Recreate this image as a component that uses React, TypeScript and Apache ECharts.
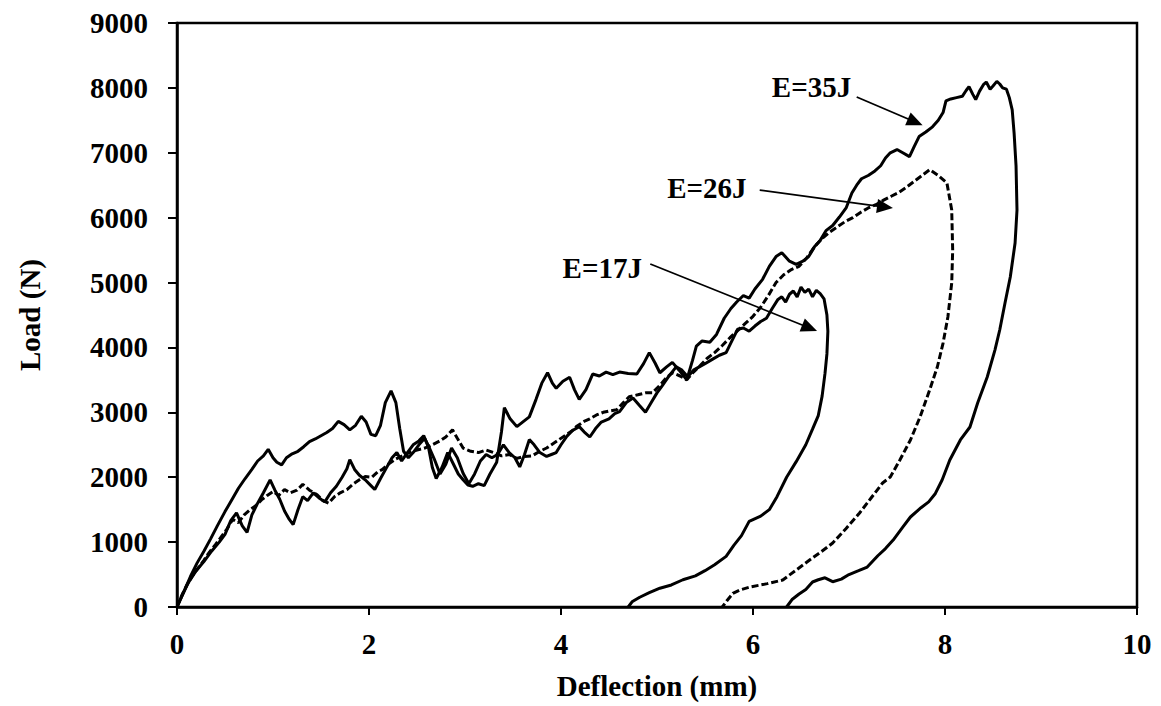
import React, { useEffect, useRef } from "react";
import * as echarts from "echarts";

// ---- data (deflection mm, load N) ----
const e35: number[][] = [
  [0,0],[0.06,200],[0.12,380],[0.2,560],[0.28,700],[0.36,860],[0.44,1000],[0.5,1120],[0.56,1330],[0.62,1450],[0.68,1250],[0.73,1150],[0.78,1420],[0.84,1600],[0.9,1760],[0.97,1960],[1.02,1800],[1.07,1660],[1.12,1480],[1.17,1350],[1.21,1270],[1.26,1500],[1.31,1700],[1.36,1640],[1.42,1760],[1.48,1680],[1.54,1620],[1.6,1760],[1.66,1860],[1.72,2000],[1.77,2130],[1.8,2270],[1.85,2120],[1.9,2030],[1.96,1960],[2.02,1870],[2.06,1810],[2.12,1980],[2.18,2140],[2.24,2300],[2.29,2380],[2.34,2250],[2.4,2380],[2.46,2500],[2.52,2560],[2.57,2640],[2.62,2460],[2.66,2150],[2.7,1980],[2.76,2150],[2.82,2380],[2.88,2200],[2.93,2050],[2.98,1960],[3.03,1880],[3.08,1860],[3.14,1900],[3.2,1870],[3.26,2050],[3.33,2230],[3.38,2700],[3.41,3070],[3.47,2900],[3.54,2780],[3.6,2850],[3.67,2930],[3.74,3200],[3.8,3450],[3.86,3610],[3.91,3450],[3.95,3370],[4.02,3480],[4.09,3540],[4.14,3350],[4.19,3200],[4.26,3350],[4.33,3590],[4.4,3560],[4.47,3620],[4.54,3580],[4.61,3620],[4.7,3600],[4.79,3590],[4.86,3750],[4.92,3920],[4.98,3760],[5.03,3610],[5.1,3700],[5.16,3770],[5.23,3650],[5.31,3500],[5.37,3800],[5.41,4020],[5.47,4100],[5.55,4080],[5.62,4200],[5.7,4450],[5.77,4600],[5.83,4700],[5.9,4800],[5.96,4760],[6.02,4900],[6.1,5050],[6.17,5250],[6.24,5400],[6.3,5460],[6.38,5330],[6.45,5280],[6.52,5330],[6.58,5400],[6.64,5550],[6.7,5650],[6.76,5800],[6.83,5880],[6.9,6010],[6.97,6150],[7.03,6380],[7.08,6500],[7.13,6600],[7.2,6650],[7.27,6720],[7.33,6800],[7.38,6920],[7.43,7000],[7.5,7050],[7.56,7000],[7.63,6940],[7.68,7100],[7.73,7250],[7.8,7320],[7.87,7400],[7.93,7500],[7.98,7620],[8.01,7800],[8.06,7830],[8.12,7850],[8.18,7870],[8.22,7960],[8.25,8020],[8.29,7900],[8.32,7820],[8.36,7950],[8.4,8050],[8.43,8090],[8.47,7980],[8.5,8030],[8.54,8100],[8.57,8060],[8.6,8000],[8.64,7980],[8.67,7850],[8.7,7660],[8.72,7300],[8.74,6800],[8.75,6118],[8.73,5610],[8.68,5085],[8.625,4685],[8.57,4269],[8.52,3960],[8.44,3544],[8.34,3144],[8.26,2774],[8.16,2574],[8.05,2265],[7.97,1957],[7.9,1750],[7.83,1620],[7.75,1530],[7.64,1387],[7.56,1230],[7.46,1032],[7.38,900],[7.3,790],[7.19,616],[7.1,560],[7.0,500],[6.92,430],[6.83,390],[6.75,450],[6.68,420],[6.62,385],[6.55,270],[6.48,200],[6.41,120],[6.35,0]
];

const e26: number[][] = [
  [0,0],[0.05,180],[0.1,330],[0.16,480],[0.22,600],[0.28,720],[0.34,850],[0.4,960],[0.46,1080],[0.52,1200],[0.58,1350],[0.64,1300],[0.7,1420],[0.76,1500],[0.82,1560],[0.88,1650],[0.94,1720],[1.0,1780],[1.06,1720],[1.12,1810],[1.18,1760],[1.25,1800],[1.31,1890],[1.38,1800],[1.46,1730],[1.52,1640],[1.58,1600],[1.64,1700],[1.7,1760],[1.77,1810],[1.84,1900],[1.9,1960],[1.96,2010],[2.03,2000],[2.09,2080],[2.14,2120],[2.2,2200],[2.28,2280],[2.35,2330],[2.42,2380],[2.5,2420],[2.58,2450],[2.66,2500],[2.74,2560],[2.8,2620],[2.87,2730],[2.92,2600],[2.98,2450],[3.06,2400],[3.14,2380],[3.22,2420],[3.3,2380],[3.38,2330],[3.46,2350],[3.54,2290],[3.62,2320],[3.7,2330],[3.78,2400],[3.85,2450],[3.92,2520],[3.98,2580],[4.06,2660],[4.12,2720],[4.16,2780],[4.24,2860],[4.3,2900],[4.37,2960],[4.44,3000],[4.5,3020],[4.58,3040],[4.65,3150],[4.71,3240],[4.8,3270],[4.88,3300],[4.95,3300],[5.02,3400],[5.09,3520],[5.16,3610],[5.24,3560],[5.31,3500],[5.38,3620],[5.45,3720],[5.52,3830],[5.6,3920],[5.68,4030],[5.76,4150],[5.84,4260],[5.92,4370],[6.0,4480],[6.08,4620],[6.16,4800],[6.24,5000],[6.32,5120],[6.4,5200],[6.48,5250],[6.56,5380],[6.64,5550],[6.72,5680],[6.8,5780],[6.88,5860],[6.96,5940],[7.04,6000],[7.12,6080],[7.2,6150],[7.28,6200],[7.36,6270],[7.44,6330],[7.52,6390],[7.6,6470],[7.68,6560],[7.76,6650],[7.84,6740],[7.93,6650],[8.02,6534],[8.07,6118],[8.08,5502],[8.07,4993],[8.03,4469],[7.98,4068],[7.92,3699],[7.84,3344],[7.74,2928],[7.64,2574],[7.53,2265],[7.43,2003],[7.35,1911],[7.23,1680],[7.11,1449],[6.97,1210],[6.83,986],[6.71,850],[6.59,724],[6.45,570],[6.31,416],[6.15,360],[5.97,308],[5.86,260],[5.79,210],[5.73,100],[5.68,0]
];

const e17: number[][] = [
  [0,0],[0.07,230],[0.14,470],[0.21,680],[0.28,860],[0.35,1050],[0.42,1250],[0.5,1470],[0.57,1650],[0.64,1830],[0.71,1980],[0.78,2120],[0.84,2250],[0.9,2330],[0.95,2430],[1.0,2300],[1.04,2230],[1.09,2190],[1.14,2300],[1.2,2360],[1.26,2400],[1.32,2470],[1.38,2550],[1.44,2590],[1.5,2640],[1.56,2690],[1.62,2750],[1.68,2860],[1.74,2810],[1.8,2730],[1.86,2800],[1.92,2940],[1.97,2850],[2.02,2660],[2.07,2640],[2.12,2800],[2.17,3150],[2.23,3330],[2.28,3150],[2.32,2750],[2.36,2400],[2.41,2300],[2.46,2380],[2.52,2500],[2.58,2600],[2.63,2450],[2.68,2280],[2.74,2050],[2.8,2200],[2.86,2450],[2.92,2300],[2.98,2060],[3.04,1900],[3.1,2050],[3.16,2250],[3.22,2350],[3.28,2300],[3.34,2350],[3.4,2500],[3.46,2380],[3.52,2300],[3.57,2160],[3.62,2350],[3.67,2580],[3.72,2500],[3.78,2380],[3.85,2320],[3.9,2350],[3.95,2380],[4.0,2500],[4.06,2630],[4.12,2720],[4.19,2780],[4.24,2700],[4.3,2620],[4.36,2750],[4.42,2850],[4.5,2900],[4.56,2980],[4.61,3010],[4.68,3150],[4.75,3220],[4.82,3100],[4.88,3000],[4.94,3150],[5.0,3300],[5.05,3400],[5.12,3550],[5.2,3700],[5.26,3650],[5.32,3550],[5.38,3650],[5.44,3700],[5.5,3750],[5.58,3820],[5.65,3880],[5.72,3920],[5.78,4100],[5.84,4280],[5.9,4300],[5.96,4250],[6.02,4330],[6.08,4400],[6.14,4450],[6.2,4600],[6.26,4740],[6.3,4780],[6.34,4700],[6.38,4820],[6.42,4870],[6.46,4780],[6.5,4930],[6.54,4850],[6.58,4900],[6.62,4780],[6.66,4880],[6.7,4830],[6.74,4750],[6.77,4500],[6.78,4250],[6.77,3900],[6.75,3600],[6.72,3250],[6.68,2950],[6.62,2740],[6.55,2500],[6.45,2240],[6.35,2000],[6.25,1700],[6.17,1500],[6.08,1400],[5.96,1320],[5.88,1100],[5.8,950],[5.72,780],[5.6,650],[5.5,560],[5.4,480],[5.27,420],[5.15,340],[5.03,290],[4.92,220],[4.82,150],[4.74,80],[4.7,0]
];

const labelTexts = ["E=35J", "E=26J", "E=17J"];
const labelPos: number[][] = [[6.61, 8013], [5.52, 6457], [4.43, 5224]];
const arrowFrom: number[][] = [[7.08, 7860], [6.07, 6426], [4.93, 5286]];
const arrowTo: number[][] = [[7.69, 7474], [7.375, 6164], [6.59, 4300]];

const xTicks = { min: 0, max: 10, interval: 2 };
const yTicks = { min: 0, max: 9000, interval: 1000 };

const FONT = "'Liberation Serif', 'Times New Roman', serif";

export default function App() {
  const ref = useRef<HTMLDivElement>(null);
  useEffect(() => {
    if (!ref.current) return;
    const chart = echarts.init(ref.current, null, { renderer: "svg" });
    const labelStyle = { color: "#000", fontFamily: FONT, fontWeight: "bold" as const, fontSize: 29 };
    const curve = (name: string, data: number[][], dashed: boolean) => ({
      name,
      type: "line",
      data,
      showSymbol: false,
      symbol: "none",
      smooth: false,
      lineStyle: { color: "#000", width: 3, type: dashed ? [7, 3] : "solid" },
      silent: true,
    });
    chart.setOption({
      animation: false,
      backgroundColor: "#fff",
      grid: { left: 177, top: 23, width: 960, height: 584, show: true, borderColor: "#000", borderWidth: 2.5, backgroundColor: "transparent" },
      xAxis: {
        type: "value",
        ...xTicks,
        axisLine: { show: true, lineStyle: { color: "#000", width: 2.5 } },
        axisTick: { show: true, length: 8, lineStyle: { color: "#000", width: 2 } },
        splitLine: { show: false },
        axisLabel: { ...labelStyle, margin: 22, formatter: (v: number) => String(v) },
        name: "Deflection (mm)",
        nameLocation: "middle",
        nameGap: 64,
        nameTextStyle: labelStyle,
      },
      yAxis: {
        type: "value",
        ...yTicks,
        axisLine: { show: true, lineStyle: { color: "#000", width: 2.5 } },
        axisTick: { show: true, length: 9, lineStyle: { color: "#000", width: 2 } },
        splitLine: { show: false },
        axisLabel: { ...labelStyle, margin: 29, formatter: (v: number) => String(v) },
        name: "Load (N)",
        nameLocation: "middle",
        nameGap: 133,
        nameRotate: 90,
        nameTextStyle: labelStyle,
      },
      series: [
        curve("E=35J", e35, false),
        curve("E=26J", e26, true),
        curve("E=17J", e17, false),
        {
          type: "line",
          data: [],
          silent: true,
          markLine: {
            silent: true,
            symbol: ["none", "triangle"],
            symbolSize: [14, 16],
            lineStyle: { color: "#000", width: 1.8, type: "solid" },
            itemStyle: { color: "#000" },
            label: { show: false },
            data: arrowFrom.map((f, i) => [
              { coord: f, symbol: "none" },
              { coord: arrowTo[i], symbol: "triangle" },
            ]),
          },
        },
      ],
    });
    const texts = labelPos.map((p, i) => {
      const [px, py] = chart.convertToPixel({ gridIndex: 0 }, p) as number[];
      return {
        type: "text",
        x: px,
        y: py,
        silent: true,
        style: {
          text: labelTexts[i],
          fill: "#000",
          font: `bold 29px ${FONT}`,
          align: "center",
          verticalAlign: "middle",
        },
      };
    });
    chart.setOption({ graphic: texts });
    return () => chart.dispose();
  }, []);
  return <div ref={ref} style={{ position: "fixed", left: 0, top: 0, width: 1161, height: 706 }} />;
}
